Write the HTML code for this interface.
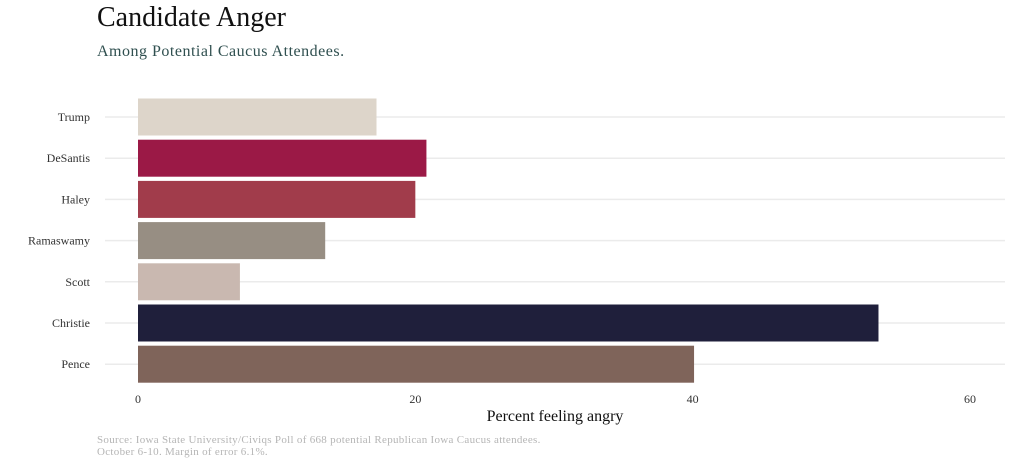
<!DOCTYPE html>
<html><head><meta charset="utf-8"><style>
body{margin:0;background:#fff;font-family:"Liberation Serif",serif;}
svg text{font-family:"Liberation Serif",serif;}
</style></head><body>
<svg id="chart" width="1020" height="465" xmlns="http://www.w3.org/2000/svg">
<text x="97" y="26" font-size="28" fill="#111">Candidate Anger</text>
<text x="97" y="56" font-size="16" letter-spacing="0.5" fill="#2f4f4f">Among Potential Caucus Attendees.</text>
<g id="grid"></g><g id="bars"></g><g id="ylabels"></g><g id="xticks"></g>
<text x="555" y="421" font-size="16" text-anchor="middle" fill="#111">Percent feeling angry</text>
<text x="97" y="443" font-size="11" letter-spacing="0.3" fill="#b5b5b5">Source: Iowa State University/Civiqs Poll of 668 potential Republican Iowa Caucus attendees.</text>
<text x="97" y="455" font-size="11" letter-spacing="0.3" fill="#b5b5b5">October 6-10.  Margin of error 6.1%.</text>
</svg>
<script>
const categories=["Trump","DeSantis","Haley","Ramaswamy","Scott","Christie","Pence"];
const values=[17.2,20.8,20.0,13.5,7.35,53.4,40.1];
const colors=["#ddd5ca","#9b1946","#a13c4b","#978e83","#c9b8b0","#1f1f3b","#7f645a"];
const xTicks=[0,20,40,60];
const NS="http://www.w3.org/2000/svg";
const x=v=>138+v*(970-138)/60;
const y=i=>117+i*41.2;
function mk(t,a,p){const e=document.createElementNS(NS,t);for(const k in a)e.setAttribute(k,a[k]);document.getElementById(p).appendChild(e);return e;}
categories.forEach((c,i)=>{
 const g=mk("line",{x1:105,x2:1005,y1:y(i),y2:y(i),stroke:"#ebebeb","stroke-width":1.5},"grid");
 
 
 const b=mk("rect",{x:x(0),y:y(i)-18.5,width:x(values[i])-x(0),height:37,fill:colors[i]},"bars");
 
 
 const t=mk("text",{x:90,y:y(i)+4,"font-size":12,"text-anchor":"end",fill:"#333"},"ylabels");
 t.textContent=c;
 
 
});
xTicks.forEach(v=>{
 const t=mk("text",{x:x(v),y:403,"font-size":12,"text-anchor":"middle",fill:"#333"},"xticks");
 t.textContent=v;
 
 
});
</script>
</body></html>
